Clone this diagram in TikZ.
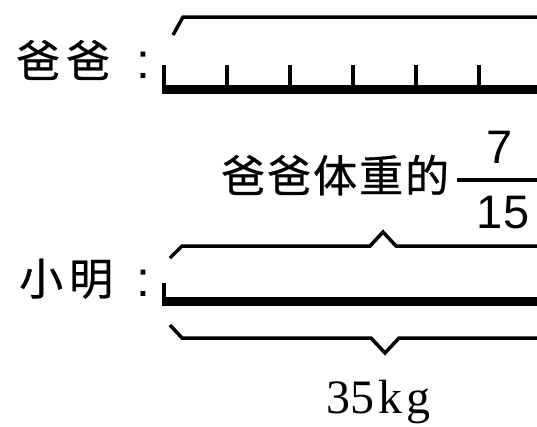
\documentclass[tikz,border=0pt]{standalone}
\usepackage{fontspec}
\newfontfamily\cjkfont[FakeBold=0.6]{Noto Sans CJK SC}
\newfontfamily\arialfont{Liberation Sans}
\newfontfamily\seriffont{Liberation Serif}
\begin{document}
\begin{tikzpicture}[x=1pt,y=-1pt,
  cjklabel/.style={font=\cjkfont\fontsize{44}{44}\selectfont, inner sep=0pt, anchor=base west},
  colonlabel/.style={font=\arialfont\fontsize{50}{50}\selectfont, inner sep=0pt, anchor=base},
  numlabel/.style={font=\arialfont\fontsize{47}{47}\selectfont, inner sep=0pt, anchor=base},
  bracepath/.style={line width=3.5pt, line join=miter},
  barline/.style={line width=9pt},
  tickline/.style={line width=3.5pt}]
\useasboundingbox (0,0) rectangle (537,426);
% labels
\node[cjklabel] (baba) at (16,77) {爸\kern6pt 爸};
\node[colonlabel] (colon1) at (143,78) {:};
\node[cjklabel] (xm) at (19,295) {小\kern6pt 明};
\node[colonlabel] (colon2) at (143,296) {:};
\node[cjklabel] (ratio) at (221,192) {爸\kern2pt 爸\kern2pt 体\kern2pt 重\kern2pt 的};
\node[numlabel] (num) at (500,163) {7};
\node[numlabel] (den) at (503,228) {15};
\node[font=\seriffont\fontsize{48}{48}\selectfont, inner sep=0pt, anchor=base west] (kg) at (326,413) {35\kern4pt k\kern4pt g};
% father
\draw[bracepath] (173,35) -- (183,17) -- (540,17);
\foreach \i in {0,...,5} \draw[tickline] (164+63*\i,65) -- (164+63*\i,89);
\draw[barline] (162,89) -- (540,89);
% fraction bar
\draw[line width=3.5pt] (457,180) -- (540,180);
% xiaoming
\draw[bracepath] (170,258) -- (182,246) -- (370,246) -- (383,232) -- (396,246) -- (540,246);
\draw[tickline] (164,283) -- (164,301);
\draw[barline] (162,301) -- (540,301);
\draw[bracepath] (170,325) -- (182,338) -- (371,338) -- (385,353) -- (399,338) -- (540,338);
\end{tikzpicture}
\end{document}
